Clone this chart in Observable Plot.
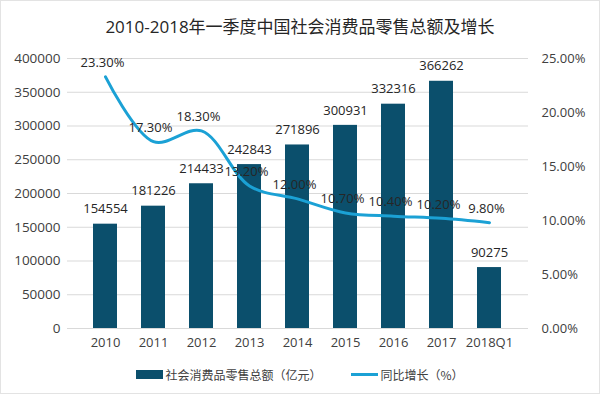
<!DOCTYPE html>
<html><head><meta charset="utf-8">
<script src="https://cdn.jsdelivr.net/npm/d3@7"></script>
<script src="https://cdn.jsdelivr.net/npm/@observablehq/plot@0.6"></script>
<style>
html,body{margin:0;padding:0;background:#fff;}
#wrap{width:598px;height:392px;border:1px solid #e3e3e3;position:relative;font-family:"Open Sans","Noto Sans CJK SC",sans-serif;color:#404040;overflow:hidden;}
#title{height:45px;line-height:52px;text-align:center;font-size:17px;color:#262626;font-family:"Open Sans","Noto Sans CJK SC",sans-serif;}
#legend{position:absolute;top:365px;left:0;width:598px;display:flex;justify-content:center;font-size:12px;color:#404040;font-family:"Noto Sans CJK SC",sans-serif;}
.it{display:flex;align-items:center;}
.sw{display:inline-block;width:27px;margin-right:2px;}
</style></head>
<body><div id="wrap"><div id="title">2010-2018年一季度中国社会消费品零售总额及增长</div><div id="chart"></div>
<div id="legend"><span class="it"><span class="sw" style="height:9px;background:#0b4f6c"></span>社会消费品零售总额（亿元）</span><span class="it" style="margin-left:30px"><span class="sw" style="height:3px;background:#1ba1d5"></span>同比增长（%）</span></div></div>
<script>
const years = ["2010","2011","2012","2013","2014","2015","2016","2017","2018Q1"];
const sales = [154554,181226,214433,242843,271896,300931,332316,366262,90275];
const growth = [23.3,17.3,18.3,13.2,12.0,10.7,10.4,10.2,9.8];
const leftTicks = [0,50000,100000,150000,200000,250000,300000,350000,400000];
const rightTicks = [0,5,10,15,20,25];

const yMax = 400000, rMax = 25;
const k = yMax / rMax;
const data = years.map((y,i)=>({year:y, sales:sales[i], growth:growth[i], gy:growth[i]*k}));

const chart = Plot.plot({
  width: 598, height: 310,
  marginTop: 12, marginBottom: 28, marginLeft: 66, marginRight: 71,
  style: {fontFamily: '"Open Sans","Noto Sans CJK SC",sans-serif', fontSize: "13px", color: "#404040"},
  x: {domain: years, padding: 0.49, label: null},
  y: {domain: [0, yMax], label: null},
  marks: [
    Plot.gridY(leftTicks, {stroke: "#d9d9d9", strokeOpacity: 1}),
    Plot.axisX({tickSize: 0, tickPadding: 9, label: null, fontSize: 13}),
    Plot.axisY(leftTicks, {tickSize: 0, tickPadding: 7, label: null, tickFormat: d => String(d), fontSize: 13.5}),
    Plot.axisY(rightTicks.map(t => t*k), {anchor: "right", tickSize: 0, tickPadding: 13, label: null, tickFormat: d => (d/k).toFixed(2) + "%", fontSize: 13}),
    Plot.barY(data, {x: "year", y: "sales", fill: "#0b4f6c"}),
    Plot.text(data, {x: "year", y: "sales", text: d => String(d.sales), dy: -15, fontSize: 13, fill: "#262626"}),
    Plot.line(data, {x: "year", y: "gy", stroke: "#1ba1d5", strokeWidth: 3, curve: "catmull-rom"}),
    Plot.text(data, {x: "year", y: "gy", text: d => d.growth.toFixed(2) + "%", dy: -14, dx: -3, fontSize: 13, fill: "#262626"})
  ]
});
document.getElementById("chart").appendChild(chart);
</script></body></html>
